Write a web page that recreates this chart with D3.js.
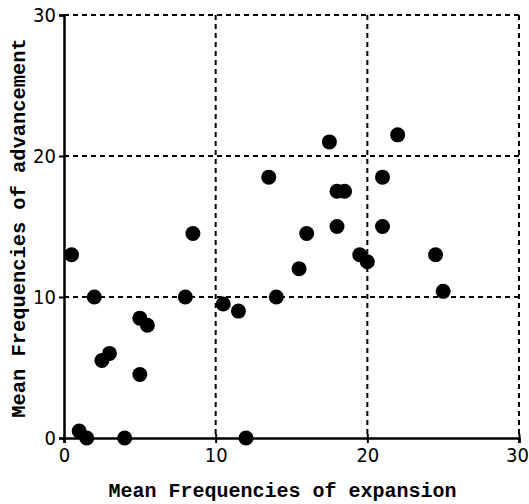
<!DOCTYPE html>
<html>
<head>
<meta charset="utf-8">
<script src="https://cdn.jsdelivr.net/npm/d3@7"></script>
<style>
  body { margin: 0; background: #fff; }
  .tick text { font-family: "Liberation Sans Narrow", "DejaVu Sans Condensed", sans-serif; }
</style>
</head>
<body>
<svg id="chart"></svg>
<script>
// data
var expansion   = [0.5, 2, 8, 8.5, 5, 5.5, 2.5, 3, 5, 1, 1.5, 4, 10.5, 11.5, 12, 13.5, 17.5, 22, 21, 18, 18.5, 18, 21, 16, 15.5, 19.5, 20, 24.5, 25, 14];
var advancement = [13, 10, 10, 14.5, 8.5, 8, 5.5, 6, 4.5, 0.5, 0, 0, 9.5, 9, 0, 18.5, 21, 21.5, 18.5, 17.5, 17.5, 15, 15, 14.5, 12, 13, 12.5, 13, 10.4, 10];
var xTicks = [0, 10, 20, 30];
var yTicks = [0, 10, 20, 30];
var xTitle = "Mean Frequencies of expansion";
var yTitle = "Mean Frequencies of advancement";

var W = 529, H = 504;
var margin = { left: 64, right: 10, top: 15, bottom: 66 };

var svg = d3.select("#chart").attr("width", W).attr("height", H);

var x = d3.scaleLinear().domain([0, 30]).range([margin.left, 519]);
var y = d3.scaleLinear().domain([0, 30]).range([438, margin.top]);

// dashed grid (includes the top and right borders)
var grid = svg.append("g").attr("stroke", "#000").attr("stroke-width", 2).attr("stroke-dasharray", "5,4");
grid.selectAll("line.vx").data(xTicks.slice(1)).enter().append("line")
    .attr("x1", function (d) { return x(d); }).attr("x2", function (d) { return x(d); })
    .attr("y1", y(30)).attr("y2", y(0));
grid.selectAll("line.hy").data(yTicks.slice(1)).enter().append("line")
    .attr("x1", x(0)).attr("x2", x(30))
    .attr("y1", function (d) { return y(d); }).attr("y2", function (d) { return y(d); });

// axes
var xAxis = svg.append("g").attr("transform", "translate(0," + y(0) + ")")
    .call(d3.axisBottom(x).tickValues(xTicks).tickSize(5).tickPadding(5).tickFormat(d3.format("d")));
var yAxis = svg.append("g").attr("transform", "translate(" + x(0) + ",0)")
    .call(d3.axisLeft(y).tickValues(yTicks).tickSize(5).tickPadding(3).tickFormat(d3.format("d")));

[xAxis, yAxis].forEach(function (a) {
  a.select(".domain").attr("stroke", "#000").attr("stroke-width", 2.5);
  a.selectAll(".tick line").attr("stroke", "#000").attr("stroke-width", 2);
  a.selectAll(".tick text").attr("fill", "#000").style("font-size", "20px");
});
// x ticks cross the axis a little
xAxis.selectAll(".tick line").attr("y1", -4);
// keep the last label inside the window
xAxis.selectAll(".tick text").filter(function (d) { return d === 30; }).attr("dx", -2);

// points
svg.append("g").selectAll("circle")
    .data(expansion.map(function (d, i) { return [d, advancement[i]]; }))
    .enter().append("circle")
    .attr("cx", function (d) { return x(d[0]); })
    .attr("cy", function (d) { return y(d[1]); })
    .attr("r", 7.5)
    .attr("fill", "#000");

// titles
svg.append("text")
    .attr("x", 282.5).attr("y", 497)
    .attr("text-anchor", "middle")
    .style("font-family", "'Liberation Mono', 'DejaVu Sans Mono', monospace")
    .style("font-size", "20px").style("font-weight", "bold")
    .text(xTitle);

svg.append("text")
    .attr("transform", "translate(25," + 228 + ") rotate(-90)")
    .attr("text-anchor", "middle")
    .style("font-family", "'Liberation Mono', 'DejaVu Sans Mono', monospace")
    .style("font-size", "20.4px").style("font-weight", "bold")
    .text(yTitle);
</script>
</body>
</html>
